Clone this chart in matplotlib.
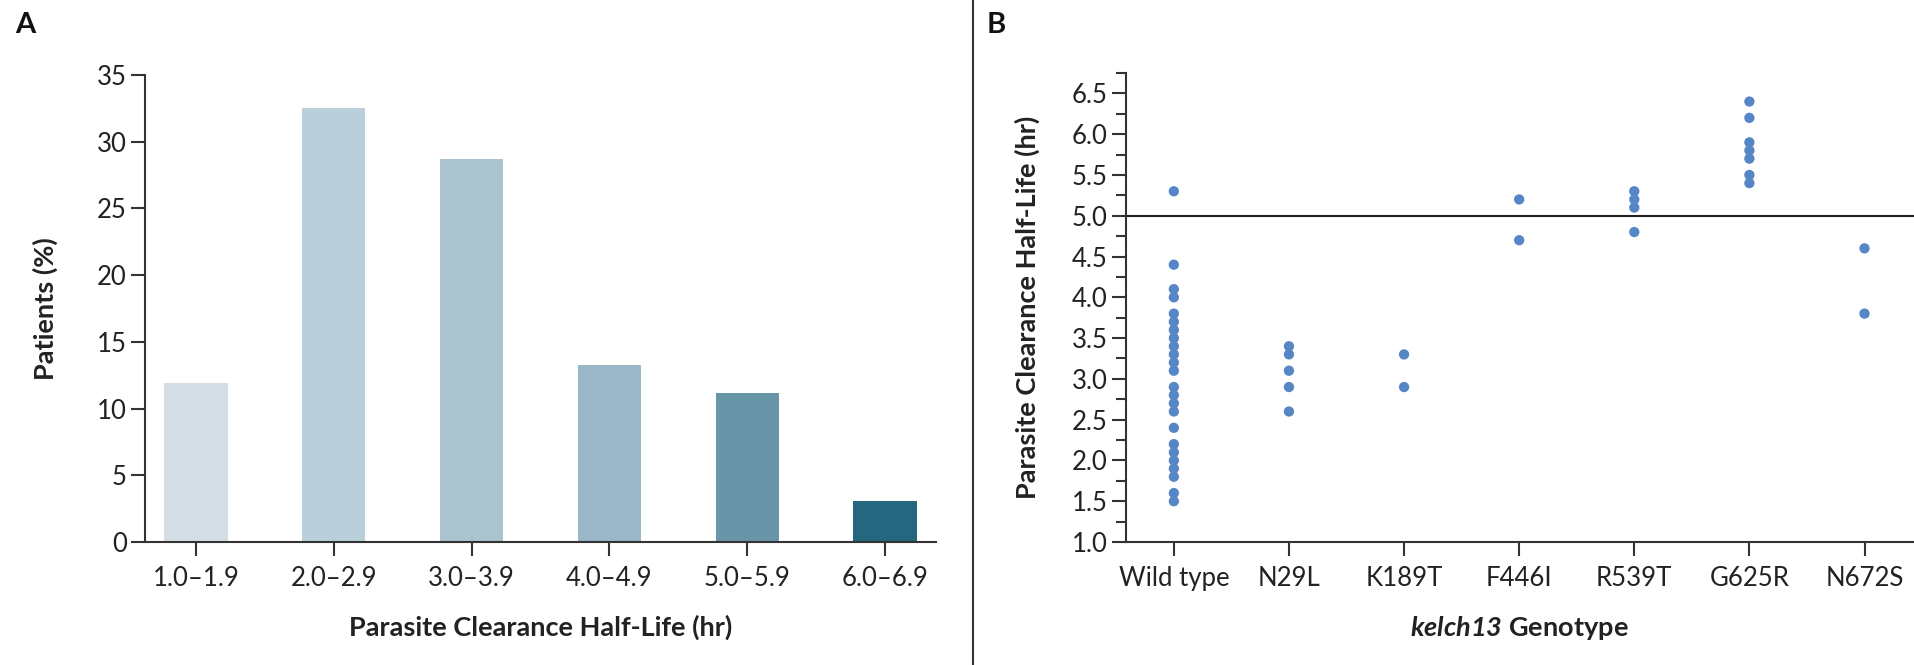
import matplotlib
matplotlib.use('Agg')
import matplotlib.pyplot as plt
from matplotlib.ticker import MultipleLocator
from matplotlib.lines import Line2D

plt.rcParams['font.family'] = ['Lato', 'DejaVu Sans']
plt.rcParams['mathtext.fontset'] = 'custom'
# only used for the italic gene name in panel B
plt.rcParams['mathtext.rm'] = 'Lato:italic:bold'
plt.rcParams['mathtext.it'] = 'Lato:italic:bold'

# Panel A: distribution of half-life
bins = ['1.0\u20131.9', '2.0\u20132.9', '3.0\u20133.9', '4.0\u20134.9', '5.0\u20135.9', '6.0\u20136.9']
patients_pct = [11.9, 32.5, 28.7, 13.3, 11.2, 3.1]
bar_colors = ['#d3dfe4', '#b9d0da', '#abc2cf', '#9ab7c8', '#6895a8', '#246880']

# Panel B: half-life by kelch13 genotype
genotypes = ['Wild type', 'N29L', 'K189T', 'F446I', 'R539T', 'G625R', 'N672S']
halflife = {
    'Wild type': [5.3, 4.4, 4.1, 4.0, 3.8, 3.7, 3.6, 3.5, 3.4, 3.3, 3.2, 3.1,
                  2.9, 2.8, 2.7, 2.6, 2.4, 2.2, 2.1, 2.0, 1.9, 1.8, 1.6, 1.5],
    'N29L': [3.4, 3.3, 3.1, 2.9, 2.6],
    'K189T': [3.3, 2.9],
    'F446I': [5.2, 4.7],
    'R539T': [5.3, 5.2, 5.1, 4.8],
    'G625R': [6.4, 6.2, 5.9, 5.8, 5.7, 5.5, 5.4],
    'N672S': [4.6, 3.8],
}
threshold = 5.0

W, H = 1914, 665
fig = plt.figure(figsize=(W / 100, H / 100), dpi=100)
txt = '#222222'
tick_fs = 18.5
lab_fs = 19.5

# ---- panel A
axA = fig.add_axes([145 / W, 1 - 542 / H, (936 - 145) / W, (542 - 75) / H])
x = range(len(bins))
axA.bar(x, patients_pct, width=0.46, color=bar_colors)
axA.set_xlim(-0.37, 5.37)
axA.set_ylim(0, 35)
axA.set_xticks(list(x))
axA.set_xticklabels(bins)
axA.yaxis.set_major_locator(MultipleLocator(5))
for s in ['top', 'right']:
    axA.spines[s].set_visible(False)
axA.set_xlabel('Parasite Clearance Half-Life (hr)', fontsize=lab_fs, fontweight='bold',
               color=txt, labelpad=17)
axA.set_ylabel('Patients (%)', fontsize=lab_fs, fontweight='bold', color=txt, labelpad=28)

# ---- panel B
axB = fig.add_axes([1125.5 / W, 1 - 542 / H, (W - 1125.5) / W, (542 - 73) / H])
for i, g in enumerate(genotypes):
    vals = halflife[g]
    axB.scatter([i] * len(vals), vals, s=55, color='#5686c6', edgecolors='none', zorder=3)
axB.axhline(threshold, color='#222222', lw=1.5, zorder=2)
axB.set_xlim(-0.42, 6.43)
axB.set_ylim(1.0, 6.75)
axB.set_xticks(range(len(genotypes)))
axB.set_xticklabels(genotypes)
axB.yaxis.set_major_locator(MultipleLocator(0.5))
axB.yaxis.set_minor_locator(MultipleLocator(0.25))
axB.yaxis.set_major_formatter(plt.FormatStrFormatter('%.1f'))
for s in ['top', 'right']:
    axB.spines[s].set_visible(False)
axB.set_xlabel(r'$\mathrm{kelch13}$ Genotype', fontsize=lab_fs, fontweight='bold',
               color=txt, labelpad=17)
axB.set_ylabel('Parasite Clearance Half-Life (hr)', fontsize=lab_fs, fontweight='bold',
               color=txt, labelpad=23)

for ax in (axA, axB):
    for s in ['left', 'bottom']:
        ax.spines[s].set_linewidth(1.5)
        ax.spines[s].set_color('#333333')
    ax.tick_params(axis='both', which='major', length=10, width=1.5, color='#333333',
                   labelsize=tick_fs, labelcolor=txt, pad=3)
    ax.tick_params(axis='x', which='major', pad=7)
    ax.tick_params(axis='y', which='minor', length=7, width=1.5, color='#333333')

# panel letters and divider
fig.text(25 / W, 1 - 25 / H, 'A', fontsize=21, fontweight='bold', ha='center', va='center', color='#111111')
fig.text(996 / W, 1 - 25 / H, 'B', fontsize=21, fontweight='bold', ha='center', va='center', color='#111111')
fig.add_artist(Line2D([973 / W, 973 / W], [0, 1], color='#333333', lw=1.5))

fig.savefig('out.png', dpi=100)
